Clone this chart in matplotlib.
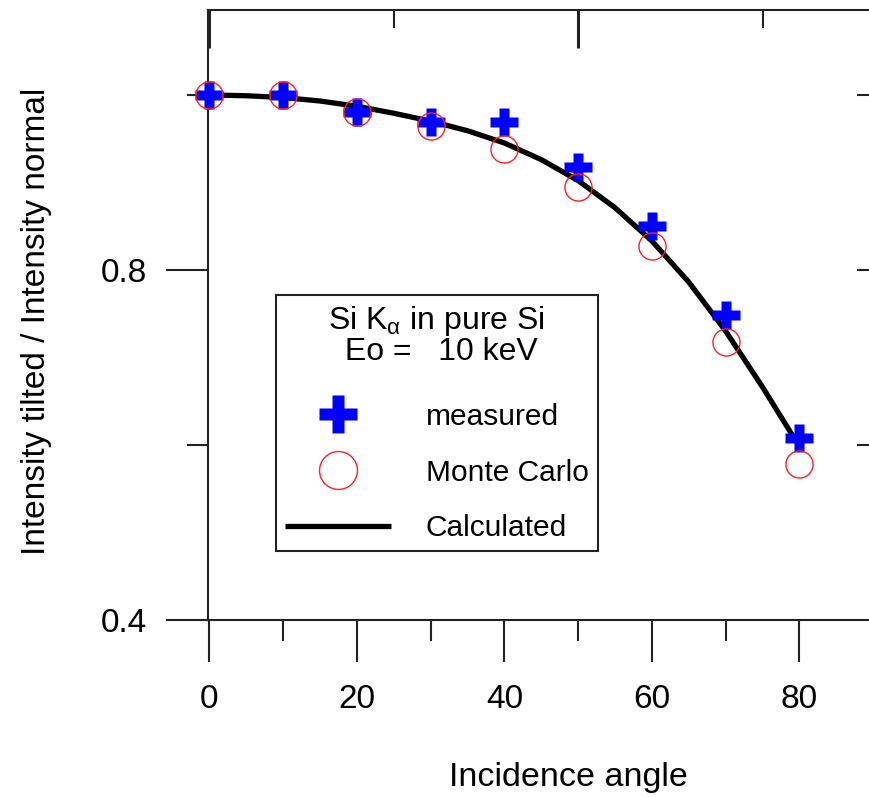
import numpy as np
import matplotlib
matplotlib.use('Agg')
import matplotlib.pyplot as plt
from matplotlib.lines import Line2D
from matplotlib.ticker import FixedLocator, NullFormatter

plt.rcParams['font.family'] = ['Liberation Sans', 'DejaVu Sans']
plt.rcParams['mathtext.fontset'] = 'custom'
plt.rcParams['mathtext.rm'] = 'Liberation Sans'
plt.rcParams['mathtext.it'] = 'Liberation Sans:italic'

# data
angle = [0, 10, 20, 30, 40, 50, 60, 70, 80]
measured = [1.0, 1.0, 0.981, 0.969, 0.969, 0.918, 0.850, 0.749, 0.608]
monte_carlo = [1.0, 1.0, 0.980, 0.965, 0.938, 0.895, 0.827, 0.718, 0.578]

calc_angle = [0, 5, 10, 15, 20, 25, 30, 35, 40, 45, 50, 55, 60, 65, 70, 75, 80]
calculated = [1.0, 0.999, 0.997, 0.993, 0.987, 0.979, 0.970, 0.959, 0.945,
              0.926, 0.902, 0.871, 0.833, 0.786, 0.730, 0.666, 0.598]

x_major = [0, 20, 40, 60, 80]
x_minor = [10, 30, 50, 70]
y_major = [0.4, 0.8]
y_minor = [0.6, 1.0]

spine_col = '#222222'

fig = plt.figure(figsize=(8.7, 7.97), dpi=100)
ax = fig.add_axes([208/870, 177/797, 662/870, 610/797])

ax.plot(calc_angle, calculated, color='black', lw=3.8, zorder=2, clip_on=False,
        solid_joinstyle='round')
ax.plot(angle, measured, ls='none', marker='P', ms=19.5, mfc='#0000ff', mec='none',
        zorder=3, clip_on=False)
ax.plot(angle, monte_carlo, ls='none', marker='o', ms=19.5, mfc='none', mec='#ff2020',
        mew=1.0, zorder=4, clip_on=False)

ax.set_xlim(-0.2, 89.56)
ax.set_ylim(0.4, 1.097)

ax.spines['right'].set_visible(False)
for s in ['left', 'bottom', 'top']:
    ax.spines[s].set_color(spine_col)
    ax.spines[s].set_linewidth(1.5)

ax.xaxis.set_major_locator(FixedLocator(x_major))
ax.xaxis.set_minor_locator(FixedLocator(x_minor))
ax.yaxis.set_major_locator(FixedLocator(y_major))
ax.yaxis.set_minor_locator(FixedLocator(y_minor))
ax.yaxis.set_minor_formatter(NullFormatter())
ax.set_yticklabels(['0.4', '0.8'])

ax.tick_params(which='major', direction='out', length=30, width=1.5,
               color=spine_col, labelsize=24, top=False, right=False)
ax.tick_params(axis='x', which='major', pad=16)
ax.tick_params(axis='y', which='major', pad=14)
ax.tick_params(which='minor', direction='out', length=15, width=1.5,
               color=spine_col, top=False, right=False)

# top ticks (inward, own spacing)
top = ax.secondary_xaxis('top')
top.xaxis.set_major_locator(FixedLocator([0, 50]))
top.xaxis.set_minor_locator(FixedLocator([25, 75]))
top.tick_params(which='major', direction='in', length=27, width=2.2, color=spine_col,
                labeltop=False)
top.tick_params(which='minor', direction='in', length=13, width=1.5, color=spine_col)
top.spines['top'].set_visible(False)

# right ticks (inward, no spine)
right = ax.secondary_yaxis('right')
right.yaxis.set_major_locator(FixedLocator([0.6, 0.8, 1.0]))
right.yaxis.set_minor_locator(FixedLocator([]))
right.tick_params(which='major', direction='in', length=9.5, width=1.5, color=spine_col,
                  labelright=False)
right.spines['right'].set_visible(False)

ax.set_xlabel('Incidence angle', fontsize=24.5)
ax.xaxis.set_label_coords(0.544, -0.233)
ax.set_ylabel('Intensity tilted / Intensity normal', fontsize=24)
ax.yaxis.set_label_coords(-0.236, 0.49)

handles = [
    Line2D([], [], ls='none', marker='P', ms=19.5, mfc='#0000ff', mec='none'),
    Line2D([], [], ls='none', marker='o', ms=19.5, mfc='none', mec='#ff2020', mew=1.0),
    Line2D([], [], color='black', lw=3.8, solid_capstyle='butt'),
]
labels = ['measured', 'Monte Carlo', 'Calculated']
leg = ax.legend(handles, labels, title='Si K$_{\\mathrm{\\alpha}}$ in pure Si\n Eo =   10 keV',
                loc='upper left', bbox_to_anchor=(276/870, 1 - 295/797),
                bbox_transform=fig.transFigure, borderaxespad=0, fontsize=21.5,
                title_fontsize=23, markerscale=1.4, handlelength=3.55,
                handletextpad=1.17, borderpad=0.3, labelspacing=0.93,
                fancybox=False, framealpha=1, edgecolor=spine_col)
leg._legend_box.sep = 26
leg.get_frame().set_linewidth(1.5)
leg.get_title().set_multialignment('center')
leg.get_title().set_linespacing(0.95)

fig.savefig('out.png', dpi=100)
